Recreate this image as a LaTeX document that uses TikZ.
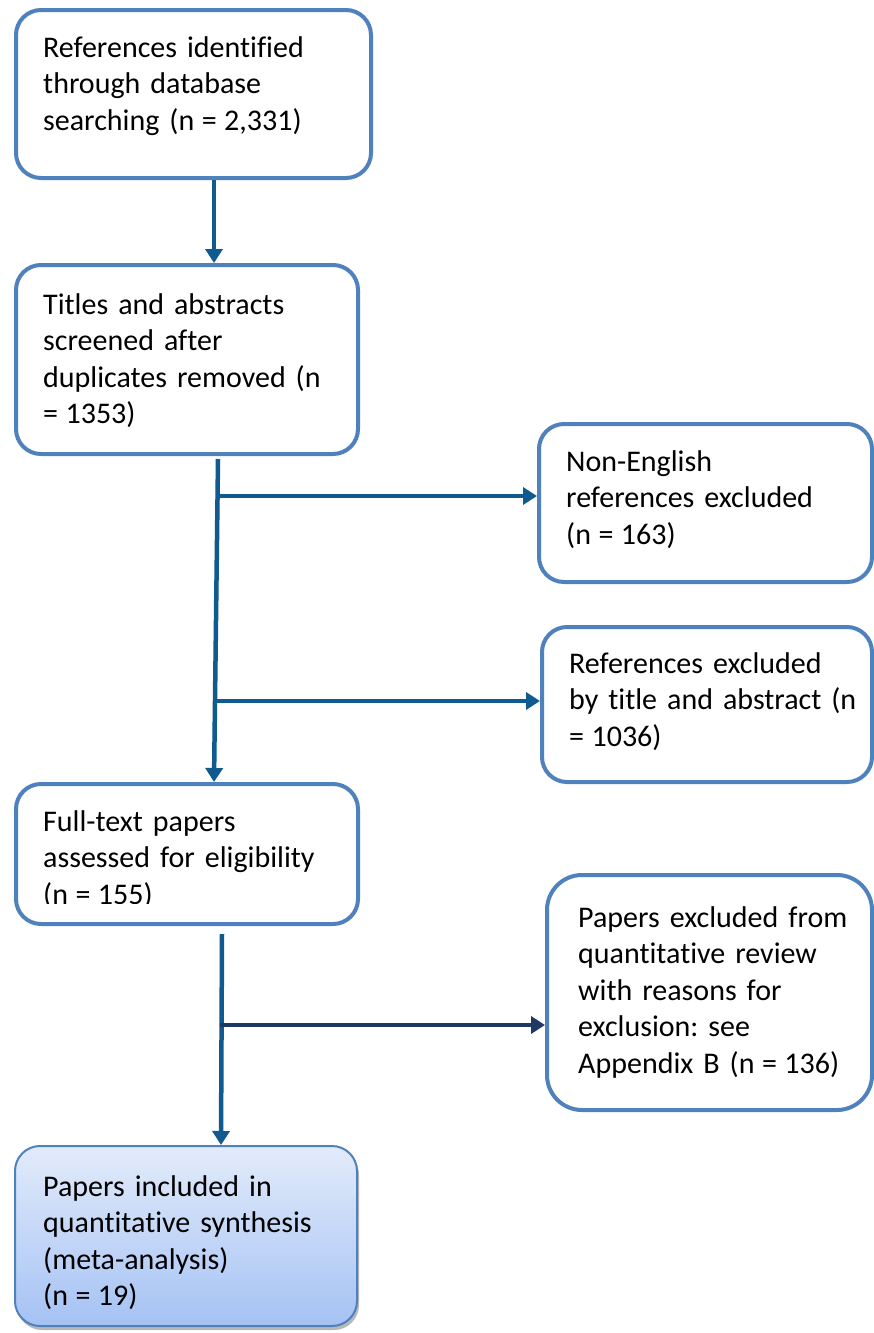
\documentclass[tikz,border=0pt]{standalone}
\usepackage{fontspec}
\setmainfont{Carlito}[Ligatures=NoCommon]
\usetikzlibrary{arrows.meta,shadows}
\definecolor{boxblue}{HTML}{4F81BD}
\definecolor{arrblue}{HTML}{0F5A8F}
\definecolor{navyline}{HTML}{1F3864}
\definecolor{gtop}{HTML}{E2EBFA}
\definecolor{gbot}{HTML}{A5C2F4}
\newcommand\eqsign{\hspace{-2.5pt}=\hspace{-2.5pt}}
\frenchspacing
\begin{document}
\begin{tikzpicture}[x=1pt,y=-1pt,
 box/.style={draw=boxblue, line width=4pt, rounded corners=25pt, anchor=north west,
   inner sep=0pt, fill=white},
 txt/.style={anchor=base west, inner sep=0pt, align=left, text width=320pt,
   font=\fontsize{30}{36.5}\selectfont\frenchspacing},
 arr/.style={draw=arrblue, line width=4.5pt, -{Triangle[width=17pt,length=14pt]}},
 navyarr/.style={arr, draw=navyline},
]
\fill[white] (0,0) rectangle (873,1333);
\useasboundingbox (0,0) rectangle (873,1333);

% boxes
\node[box, minimum width=355pt, minimum height=168pt] (b1) at (14,8) {};
\node[box, minimum width=342pt, minimum height=189pt] (b2) at (14,263) {};
\node[box, minimum width=333pt, minimum height=158pt] (b3) at (537,422) {};
\node[box, minimum width=330pt, minimum height=155pt] (b4) at (540,625) {};
\node[box, minimum width=342pt, minimum height=140pt] (b5) at (14,782) {};
\node[box, rounded corners=35pt, minimum width=325pt, minimum height=235pt] (b6) at (545,873) {};
\node[box, line width=2pt, top color=gtop, bottom color=gbot,
  drop shadow={shadow xshift=2pt, shadow yshift=-4pt, fill=black!55, opacity=.5},
  minimum width=342pt, minimum height=180pt] (b7) at (14,1145) {};

% texts
\node[txt] (t1) at (43,57) {References identified\\through database\\searching (n \eqsign{} 2,331)};
\node[txt] (t2) at (43,314) {Titles and abstracts\\screened after\\duplicates removed (n\\={}\hspace{-2.5pt} 1353)};
\node[txt] (t3) at (566,471) {Non-English\\references excluded\\(n \eqsign{} 163)};
\node[txt] (t4) at (569,673) {References excluded\\by title and abstract (n\\={}\hspace{-2.5pt} 1036)};
\begin{scope}
  \clip (0,790) rectangle (360,903);
  \node[txt] (t5) at (43,831) {Full-text papers\\assessed for eligibility\\(n \eqsign{} 155)};
\end{scope}
\node[txt] (t6) at (578,927) {Papers excluded from\\quantitative review\\with reasons for\\exclusion: see\\Appendix B (n \eqsign{} 136)};
\node[txt] (t7) at (43,1196) {Papers included in\\quantitative synthesis\\(meta-analysis)\\(n \eqsign{} 19)};

% connectors
\draw[arr] ([xshift=20.5pt]b1.south) -- ([xshift=27pt]b2.north);
\draw[arr] ([xshift=31pt,yshift=-3pt]b2.south) -- ([xshift=27pt]b5.north);
\coordinate (j1) at (217,496);
\coordinate (j2) at (215,701);
\coordinate (j3) at (220,1025);
\draw[arr] (j1) -- (j1 -| b3.west);
\draw[arr] (j2) -- (j2 -| b4.west);
\draw[arr] ([xshift=35pt,yshift=-8pt]b5.south) -- ([xshift=35pt]b7.north);
\draw[navyarr] (j3) -- (j3 -| b6.west);
\end{tikzpicture}
\end{document}
